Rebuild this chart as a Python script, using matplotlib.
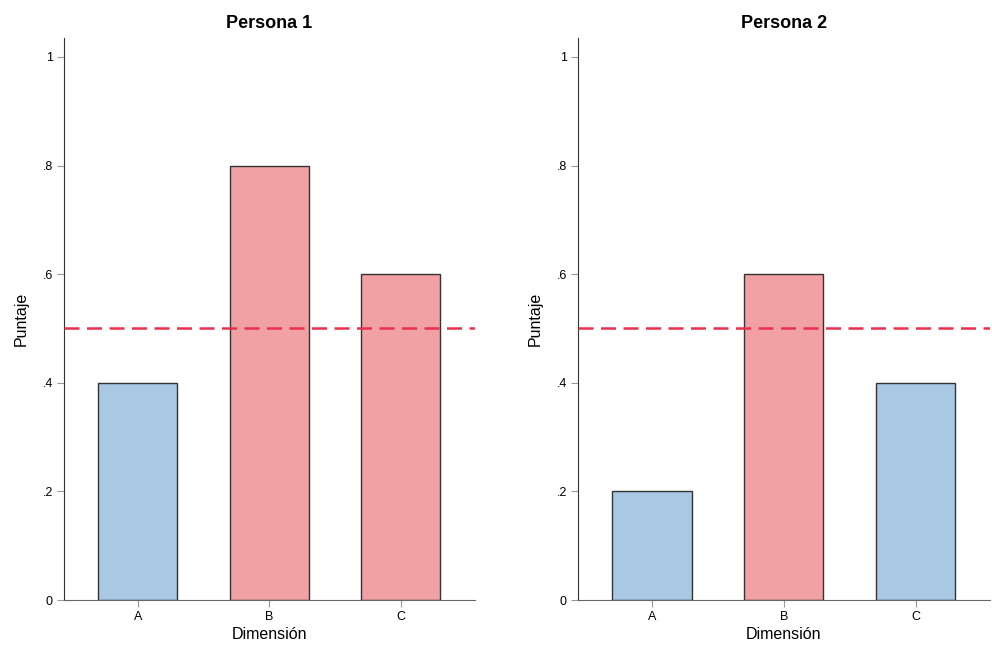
import matplotlib
matplotlib.use("Agg")
import matplotlib.pyplot as plt

plt.rcParams['font.family'] = ['Liberation Sans', 'DejaVu Sans']

categories = ['A', 'B', 'C']
persona1 = [0.4, 0.8, 0.6]
persona2 = [0.2, 0.6, 0.4]
titles = ['Persona 1', 'Persona 2']
threshold = 0.5
yticks = [0, 0.2, 0.4, 0.6, 0.8, 1.0]
ytick_labels = ['0', '.2', '.4', '.6', '.8', '1']

blue = '#a9c8e4'
red = '#f1a1a3'

fig = plt.figure(figsize=(9.92, 6.46), dpi=100)
positions = [[0.0645, 0.0712, 0.414, 0.870], [0.5827, 0.0712, 0.415, 0.870]]

for pos, vals, title in zip(positions, [persona1, persona2], titles):
    ax = fig.add_axes(pos)
    x = range(len(categories))
    colors = [red if v > threshold else blue for v in vals]
    ax.bar(x, vals, width=0.6, color=colors, edgecolor='#333333', linewidth=1.0, zorder=2)
    ax.axhline(threshold, color='#e8304e', linestyle=(0, (6, 3)), linewidth=1.8, zorder=3)
    ax.set_xlim(-0.56, 2.56)
    ax.set_ylim(0, 1.035)
    ax.set_xticks(list(x))
    ax.set_xticklabels(categories, fontsize=9)
    ax.set_yticks(yticks)
    ax.set_yticklabels(ytick_labels, fontsize=9)
    ax.tick_params(axis='both', direction='out', length=5, width=0.8, color='#999999', pad=3)
    for s in ['top', 'right']:
        ax.spines[s].set_visible(False)
    ax.spines['left'].set_color('#333333')
    ax.spines['bottom'].set_color('#666666')
    ax.set_xlabel('Dimensión', fontsize=11.5, labelpad=3)
    ax.set_ylabel('Puntaje', fontsize=11.5, labelpad=10)
    ax.set_title(title, fontsize=13, fontweight='bold', pad=7)

fig.savefig('out.png', dpi=100, facecolor='white')
